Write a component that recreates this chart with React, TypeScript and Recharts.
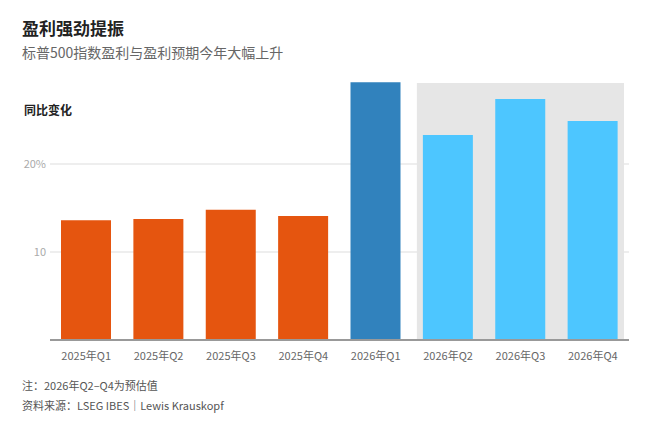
import React from "react";
import { BarChart, Bar, XAxis, YAxis, CartesianGrid, ReferenceArea, Cell } from "recharts";

const categories = ["2025年Q1", "2025年Q2", "2025年Q3", "2025年Q4", "2026年Q1", "2026年Q2", "2026年Q3", "2026年Q4"];
const growth = [13.6, 13.75, 14.8, 14.1, 29.3, 23.3, 27.4, 24.9];
const yTicks = [10, 20];
const estimateStart = "2026年Q2";
const estimateEnd = "2026年Q4";

const data = categories.map((c, i) => ({ name: c, value: growth[i] }));

const ORANGE = "#E5550F";
const DARK_BLUE = "#3182BD";
const LIGHT_BLUE = "#4DC6FF";
const colorFor = (i: number) => (i < 4 ? ORANGE : i === 4 ? DARK_BLUE : LIGHT_BLUE);

const FONT = '"Noto Sans CJK SC", "Noto Sans", sans-serif';

const ShadeShape = (p: any) => (
  <rect x={p.x + 5} y={p.y} width={Math.max(0, p.width - 10)} height={p.height} fill="#E6E6E6" />
);

export default function App() {
  return (
    <div style={{ position: "absolute", left: 0, top: 0, width: 651, height: 421, background: "#fff", fontFamily: FONT, overflow: "hidden" }}>
      <div style={{ position: "absolute", left: 22, top: 16, fontSize: 17, fontWeight: 700, color: "#222", lineHeight: "24px" }}>盈利强劲提振</div>
      <div style={{ position: "absolute", left: 22, top: 41, fontSize: 14, color: "#666", lineHeight: "22px" }}>标普500指数盈利与盈利预期今年大幅上升</div>
      <div style={{ position: "absolute", left: 24, top: 101, fontSize: 12, fontWeight: 700, color: "#222", lineHeight: "18px" }}>同比变化</div>
      <div style={{ position: "absolute", left: 22, top: 377, fontSize: 11, color: "#555", lineHeight: "16px" }}>注：2026年Q2–Q4为预估值</div>
      <div style={{ position: "absolute", left: 22, top: 397, fontSize: 11, color: "#555", lineHeight: "16px" }}>资料来源：LSEG IBES｜Lewis Krauskopf</div>
      <div style={{ position: "absolute", left: 0, top: 0 }}>
        <BarChart width={651} height={421} data={data} margin={{ top: 76, right: 22, bottom: 51, left: 0 }} barSize={50}>
          <ReferenceArea x1={estimateStart} x2={estimateEnd} y1={0} y2={29.2} shape={ShadeShape} ifOverflow="visible" />
          <CartesianGrid vertical={false} stroke="#DDDDDD" horizontalValues={yTicks} />
          <XAxis
            dataKey="name"
            axisLine={{ stroke: "#999", strokeWidth: 2 }}
            tickLine={false}
            tickSize={0}
            tickMargin={12}
            tick={{ fontSize: 11, fill: "#666", fontFamily: FONT }}
            height={30}
            interval={0}
          />
          <YAxis
            width={50}
            domain={[0, 30]}
            ticks={yTicks}
            axisLine={false}
            tickLine={false}
            tickSize={0}
            tickMargin={4}
            tick={{ fontSize: 11, fill: "#AAA", fontFamily: FONT }}
            tickFormatter={(v: number) => (v === 20 ? "20%" : String(v))}
          />
          <Bar dataKey="value" isAnimationActive={false}>
            {data.map((d, i) => (
              <Cell key={d.name} fill={colorFor(i)} />
            ))}
          </Bar>
        </BarChart>
      </div>
    </div>
  );
}
